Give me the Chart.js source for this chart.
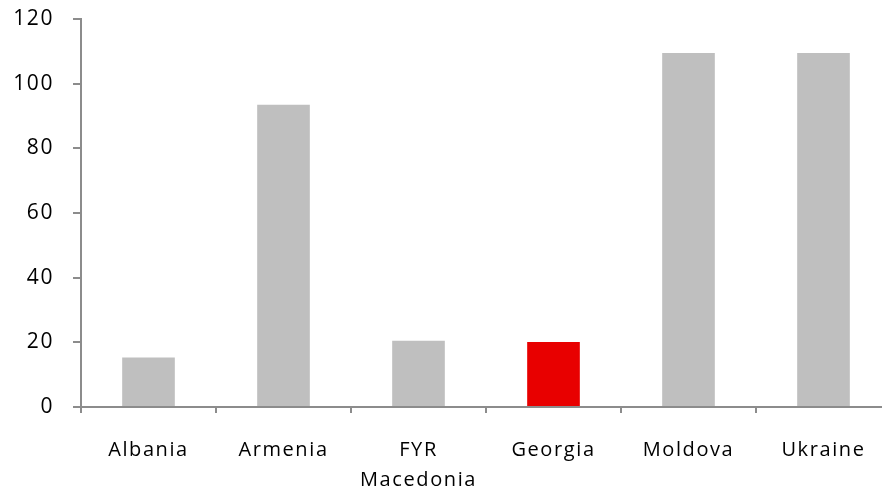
<!DOCTYPE html>
<html>
<head>
<meta charset="utf-8">
<script src="https://cdn.jsdelivr.net/npm/chart.js@4"></script>
<style>
  html, body { margin: 0; padding: 0; background: #fff; overflow: hidden; }
  #wrap { width: 891px; height: 489px; position: relative; }
</style>
</head>
<body>
<div id="wrap"><canvas id="chart"></canvas></div>
<script>
const countries = ['Albania', 'Armenia', ['FYR', 'Macedonia'], 'Georgia', 'Moldova', 'Ukraine'];
const values = [15.3, 93.5, 20.5, 20.1, 109.5, 109.5];
const barColors = ['#bfbfbf', '#bfbfbf', '#bfbfbf', '#e80000', '#bfbfbf', '#bfbfbf'];
const yTicks = [0, 20, 40, 60, 80, 100, 120];

const axisColor = '#8c8c8c';

const spacing = {
    id: 'spacing',
    beforeDraw(chart) {
        chart.ctx.letterSpacing = '1.6px';
    }
};

new Chart(document.getElementById('chart'), {
    type: 'bar',
    data: {
        labels: countries,
        datasets: [
            {
                data: values,
                backgroundColor: barColors,
                borderWidth: 0,
                barPercentage: 0.39,
                categoryPercentage: 1.0
            }
        ]
    },
    options: {
        responsive: true,
        maintainAspectRatio: false,
        animation: false,
        layout: { padding: { top: 19, right: 0, left: 0, bottom: 0 } },
        plugins: {
            legend: { display: false },
            tooltip: { enabled: false }
        },
        scales: {
            x: {
                grid: {
                    drawOnChartArea: false,
                    drawTicks: true,
                    tickLength: 6,
                    color: axisColor,
                    lineWidth: 2
                },
                border: { color: axisColor, width: 2 },
                ticks: {
                    color: '#000',
                    padding: 22,
                    maxRotation: 0,
                    font: { family: 'Open Sans', size: 20, lineHeight: 1.5 }
                },
                afterFit(scale) {
                    scale.height = 82;
                    scale.paddingLeft = 0;
                    scale.paddingRight = 0;
                }
            },
            y: {
                min: 0,
                max: 120,
                afterBuildTicks(scale) {
                    scale.ticks = yTicks.map(v => ({ value: v }));
                },
                grid: {
                    drawOnChartArea: false,
                    drawTicks: true,
                    tickLength: 8,
                    color: axisColor,
                    lineWidth: 2
                },
                border: { color: axisColor, width: 2 },
                ticks: {
                    color: '#000',
                    padding: 19,
                    font: { family: 'Open Sans', size: 21 }
                },
                afterFit(scale) {
                    scale.width = 81;
                    scale.paddingTop = 0;
                    scale.paddingBottom = 0;
                }
            }
        }
    },
    plugins: [spacing]
});
</script>
</body>
</html>
